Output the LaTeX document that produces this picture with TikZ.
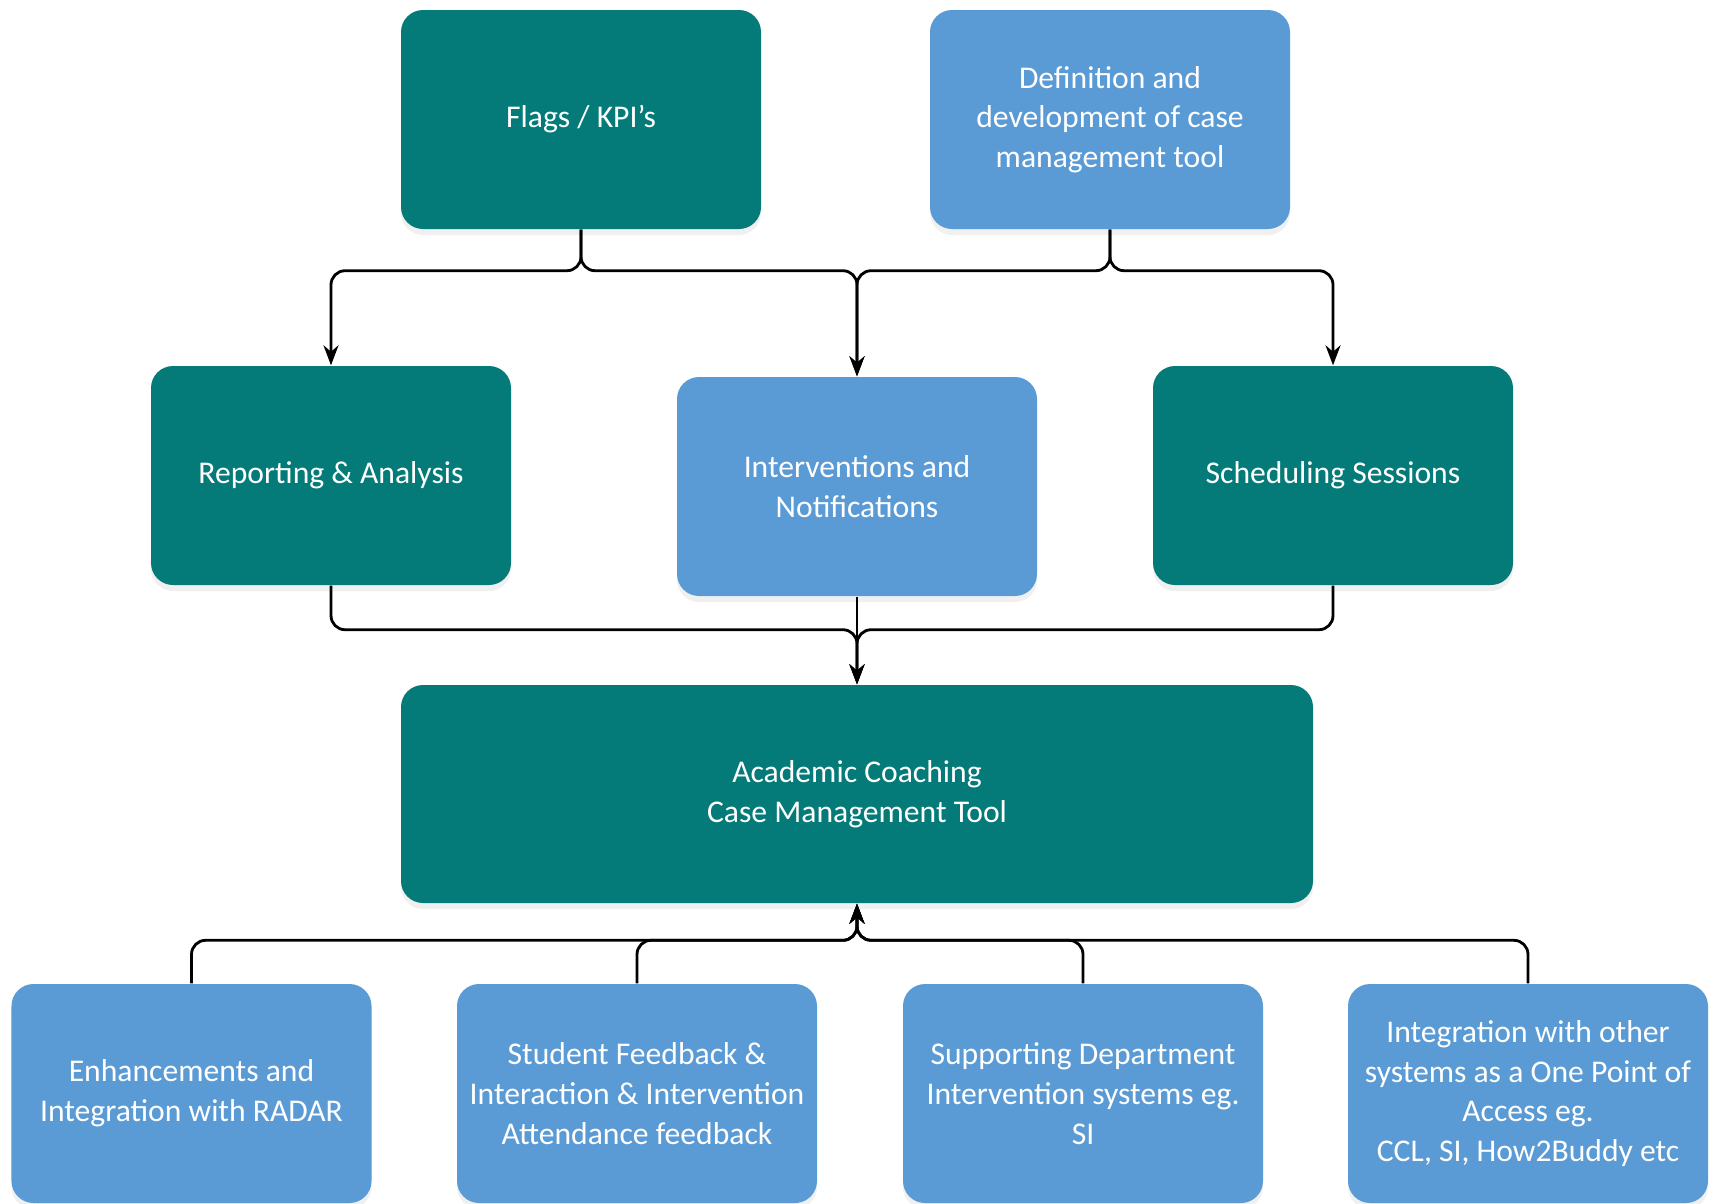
\documentclass[tikz,border=0pt]{standalone}
\usepackage{fontspec}
\setmainfont{Carlito}
\usetikzlibrary{arrows.meta,positioning,shadows}
\definecolor{tealbox}{RGB}{4,123,120}
\definecolor{bluebox}{RGB}{91,155,213}

\begin{document}
\begin{tikzpicture}[x=1cm,y=1cm]
\tikzset{
  box/.style={rectangle,rounded corners=2.2mm,minimum width=3.6cm,minimum height=2.19cm,
    align=center,text=white,font=\fontsize{9}{11.3}\selectfont,
    drop shadow={opacity=0.12,shadow xshift=0mm,shadow yshift=-0.6mm}},
  tealnode/.style={box,fill=tealbox},
  bluenode/.style={box,fill=bluebox},
  link/.style={line width=0.8pt,rounded corners=4pt},
  directed/.style={link,-{Stealth[length=2mm,width=1.5mm]}}
}
\useasboundingbox (0,0) rectangle (17.15,-12.03);
\node[tealnode] (n_flags) at (5.81,-1.195) {Flags / KPI's};
\node[bluenode] (n_defn) at (11.10,-1.195) {Definition and\\development of case\\management tool};
\node[tealnode] (n_report) at (3.31,-4.755) {Reporting \& Analysis};
\node[bluenode] (n_interv) at (8.57,-4.865) {Interventions and\\Notifications};
\node[tealnode] (n_sched) at (13.33,-4.755) {Scheduling Sessions};
\node[tealnode,minimum width=9.12cm,minimum height=2.18cm] (n_acad) at (8.57,-7.94) {Academic Coaching\\Case Management Tool};
\node[bluenode] (n_bot_0) at (1.915,-10.935) {Enhancements and\\Integration with RADAR};
\node[bluenode] (n_bot_1) at (6.37,-10.935) {Student Feedback \&\\Interaction \& Intervention\\Attendance feedback};
\node[bluenode] (n_bot_2) at (10.83,-10.935) {Supporting Department\\Intervention systems eg.\\SI};
\node[bluenode] (n_bot_3) at (15.28,-10.935) {Integration with other\\systems as a One Point of\\Access eg.\\CCL, SI, How2Buddy etc};
\draw[directed] (n_flags.south) -- ++(0,-0.41) -| (n_report.north);
\draw[directed] (n_flags.south) -- ++(0,-0.41) -| (n_interv.north);
\draw[directed] (n_defn.south) -- ++(0,-0.41) -| (n_interv.north);
\draw[directed] (n_defn.south) -- ++(0,-0.41) -| (n_sched.north);
\draw[directed] (n_report.south) -- ++(0,-0.44) -| (n_acad.north);
\draw[directed] (n_interv.south) -- (n_acad.north);
\draw[directed] (n_sched.south) -- ++(0,-0.44) -| (n_acad.north);
\draw[directed] (n_bot_0.north) -- ++(0,0.43) -| (n_acad.south);
\draw[directed] (n_bot_1.north) -- ++(0,0.43) -| (n_acad.south);
\draw[directed] (n_bot_2.north) -- ++(0,0.43) -| (n_acad.south);
\draw[directed] (n_bot_3.north) -- ++(0,0.43) -| (n_acad.south);
\end{tikzpicture}
\end{document}
